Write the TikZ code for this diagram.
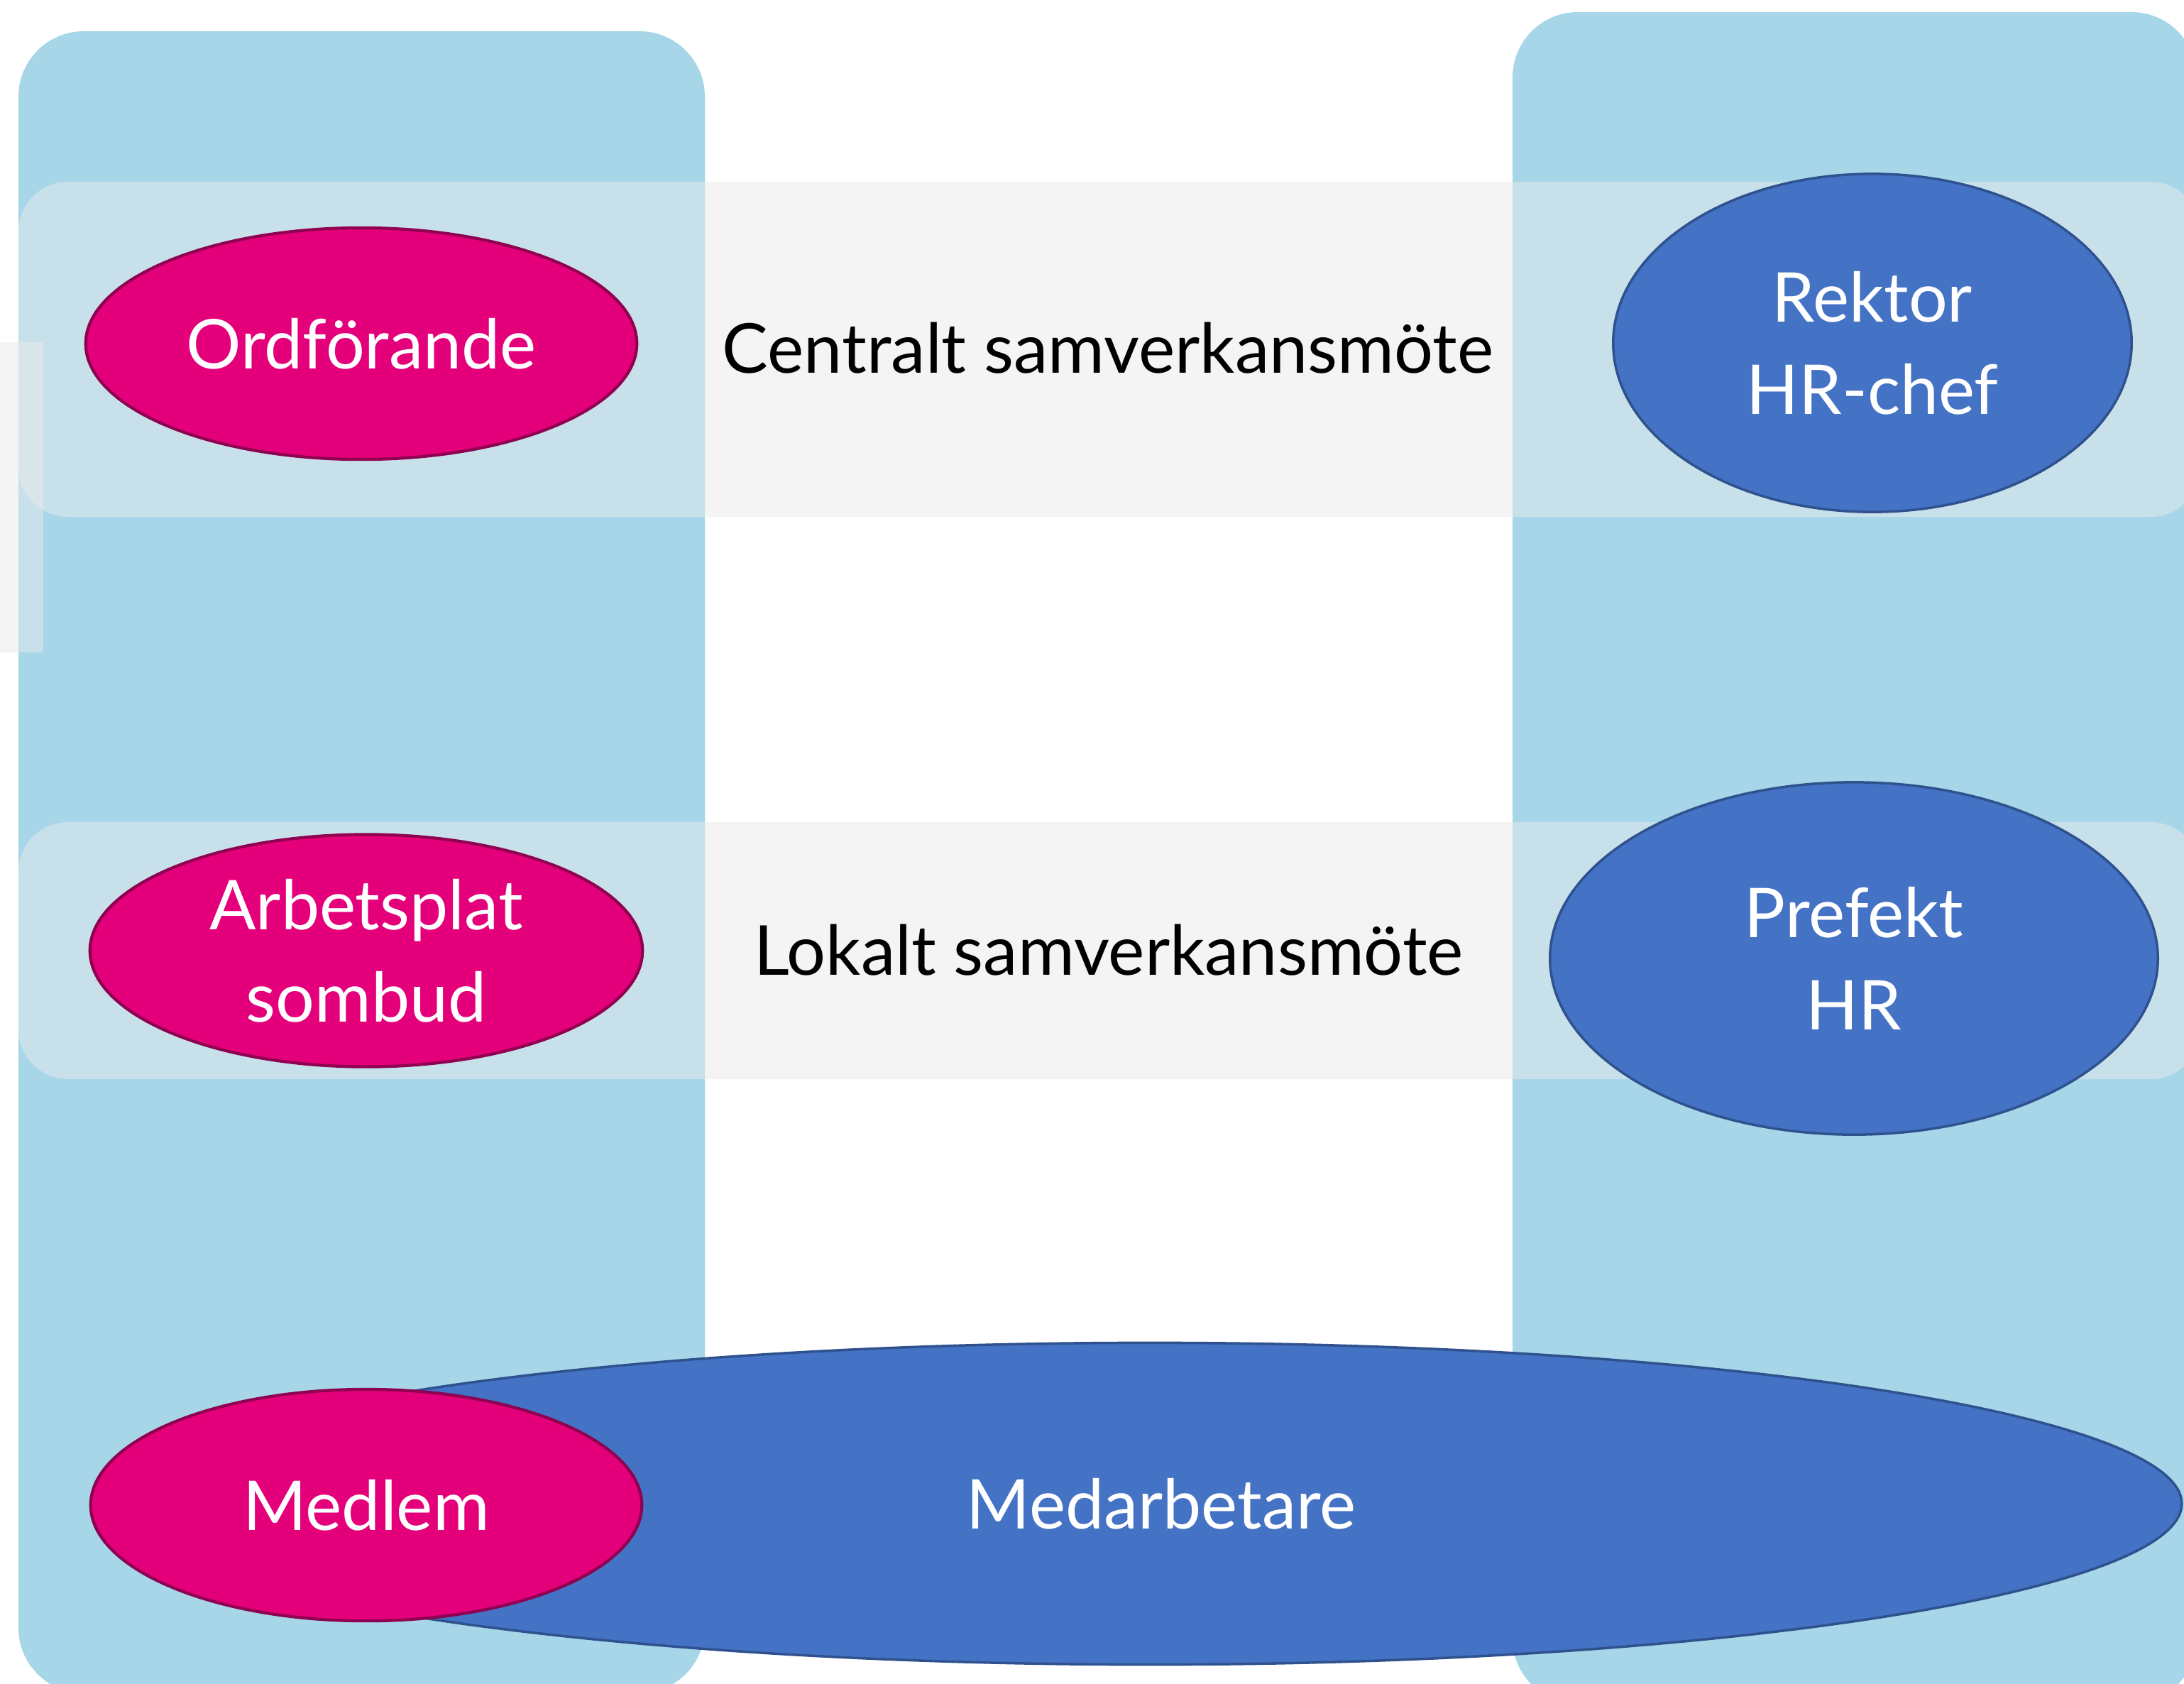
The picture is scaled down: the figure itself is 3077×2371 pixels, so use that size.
\documentclass[tikz,border=0pt]{standalone}
\usepackage{fontspec}
\setmainfont{Lato}
\usetikzlibrary{shapes.geometric}
\definecolor{colblue}{HTML}{A6D6E7}
\definecolor{bandgray}{HTML}{EBEBEB}
\definecolor{pinkfill}{HTML}{E4007B}
\definecolor{pinkline}{HTML}{8F0050}
\definecolor{bluefill}{HTML}{4472C4}
\definecolor{blueline}{HTML}{2F528F}
\tikzset{
  column/.style={fill=colblue, draw=none, rounded corners=0.92cm},
  band/.style={fill=bandgray, fill opacity=0.5, draw=none, rounded corners=0.7cm},
  ovaltext/.style={text=white, font=\fontsize{27.5}{37}\selectfont, align=center, inner sep=0pt},
  pinkoval/.style={ellipse, ovaltext, fill=pinkfill, draw=pinkline, line width=1.2pt},
  blueoval/.style={ellipse, ovaltext, fill=bluefill, draw=blueline, line width=1pt},
  meeting/.style={text=black, font=\fontsize{27.6}{37}\selectfont, inner sep=0pt}
}
\begin{document}
\begin{tikzpicture}[x=0.01cm,y=-0.01cm]
\clip (0,0) rectangle (3077,2371);
\fill[white] (0,0) rectangle (3077,2371);
% columns
\path[column] (26,44) rectangle (993,2385);
\path[column] (2131,17) rectangle (3095,2400);
% meeting bands
\path[band] (26,256) rectangle (3100,728);
\path[band] (26,1158) rectangle (3100,1520);
\path[fill=bandgray, fill opacity=0.5] (-10,482) rectangle (61,919);
% ovals
\node[pinkoval, minimum width=7.76cm, minimum height=3.26cm] (ordf) at (509,484) {Ordförande};
\node[blueoval, minimum width=7.30cm, minimum height=4.76cm] (rektor) at (2638,483) {Rektor\\HR-chef};
\node[pinkoval, minimum width=7.78cm, minimum height=3.27cm] (arb) at (516,1339) {Arbetsplat\\sombud};
\node[blueoval, minimum width=8.56cm, minimum height=4.96cm] (prefekt) at (2612,1350) {Prefekt\\HR};
\node[blueoval, minimum width=29.06cm, minimum height=4.53cm] (medarb) at (1620,2118) {\hspace*{0.32cm}Medarbetare};
\node[pinkoval, minimum width=7.76cm, minimum height=3.26cm] (medlem) at (516,2120) {Medlem};
% meeting labels
\node[meeting] (central) at (1561,490) {Centralt samverkansmöte};
\node[meeting] (lokalt) at (1562,1338) {Lokalt samverkansmöte};
\end{tikzpicture}
\end{document}
